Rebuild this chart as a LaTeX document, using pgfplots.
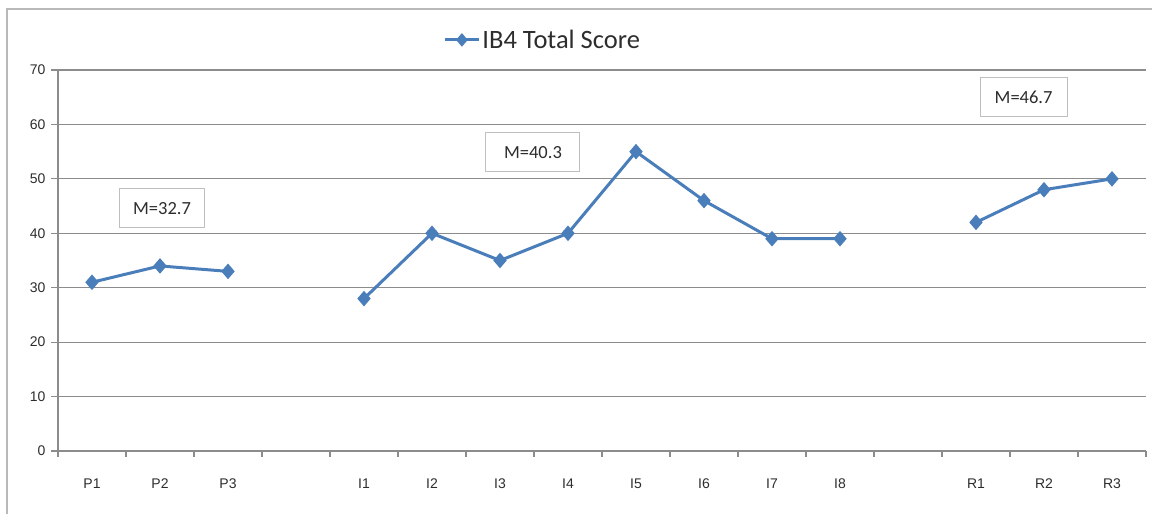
\documentclass[border=0pt]{standalone}
\usepackage{pgfplots}
\pgfplotsset{compat=1.18}
\usepackage{pgfplotstable}
\usepackage{fontspec}
\setmainfont{Liberation Sans}
\newfontfamily\calib{Carlito}
\definecolor{xlblue}{RGB}{74,126,187}
\definecolor{gridgray}{RGB}{140,140,140}
\definecolor{txtgray}{RGB}{45,45,45}
\pgfplotstableread{
x y
0 31
1 34
2 33
3 nan
4 28
5 40
6 35
7 40
8 55
9 46
10 39
11 39
12 nan
13 42
14 48
15 50
}\scores
\begin{document}
\begin{tikzpicture}[x=1pt,y=1pt]
\path[use as bounding box] (0,0) rectangle (1152,514);
\draw[gray!55, line width=1.5pt] (7,0) -- (7,505) -- (1152,505);
\begin{axis}[
  at={(58pt,63pt)}, anchor=south west,
  scale only axis, width=1088pt, height=381pt,
  xmin=-0.5, xmax=15.5, ymin=0, ymax=70,
  ytick={0,10,...,70},
  xtick={0,...,15},
  xticklabels={P1,P2,P3,,I1,I2,I3,I4,I5,I6,I7,I8,,R1,R2,R3},
  minor xtick={-0.5,0.5,...,15.5},
  major x tick style={draw=none},
  axis lines*=left,
  axis line style={gridgray, line width=1.2pt},
  tick style={gridgray, line width=1.2pt},
  tick align=outside,
  major tick length=7pt, minor tick length=6pt,
  ymajorgrids, grid style={gridgray, line width=1.2pt},
  ticklabel style={font=\fontsize{14}{16}\selectfont, text=txtgray},
  xticklabel style={yshift=-17pt},
  yticklabel style={xshift=-2pt},
  /pgf/number format/assume math mode=true,
  unbounded coords=jump,
  clip=false,
  legend style={at={(0.4455,1.079)}, anchor=center, draw=none, fill=none,
    font=\calib\fontsize{26.5}{28}\selectfont, text=txtgray,
    /tikz/every even column/.append style={column sep=0pt}},
  legend image code/.code={%
    \draw[#1, mark size=4.5pt, mark repeat=2, mark phase=2] plot coordinates {(0pt,0pt) (17pt,0pt) (34pt,0pt)};},
]
\addplot[xlblue, line width=3pt, mark=diamond*, mark size=5.5pt,
  mark options={solid, xscale=1.15}] table[x=x,y=y] {\scores};
\addlegendentry{IB4 Total Score}
\tikzset{mbox/.style={draw=gray!50, line width=1pt, fill=white, text=txtgray,
  font=\calib\fontsize{18.5}{20}\selectfont, minimum height=39pt, inner sep=0pt}}
\node[mbox, minimum width=85pt] at (axis cs:1.03,44.6) {M=32.7};
\node[mbox, minimum width=94pt] at (axis cs:6.485,54.9) {M=40.3};
\node[mbox, minimum width=87pt] at (axis cs:13.7,65.0) {M=46.7};
\end{axis}
\end{tikzpicture}
\end{document}
